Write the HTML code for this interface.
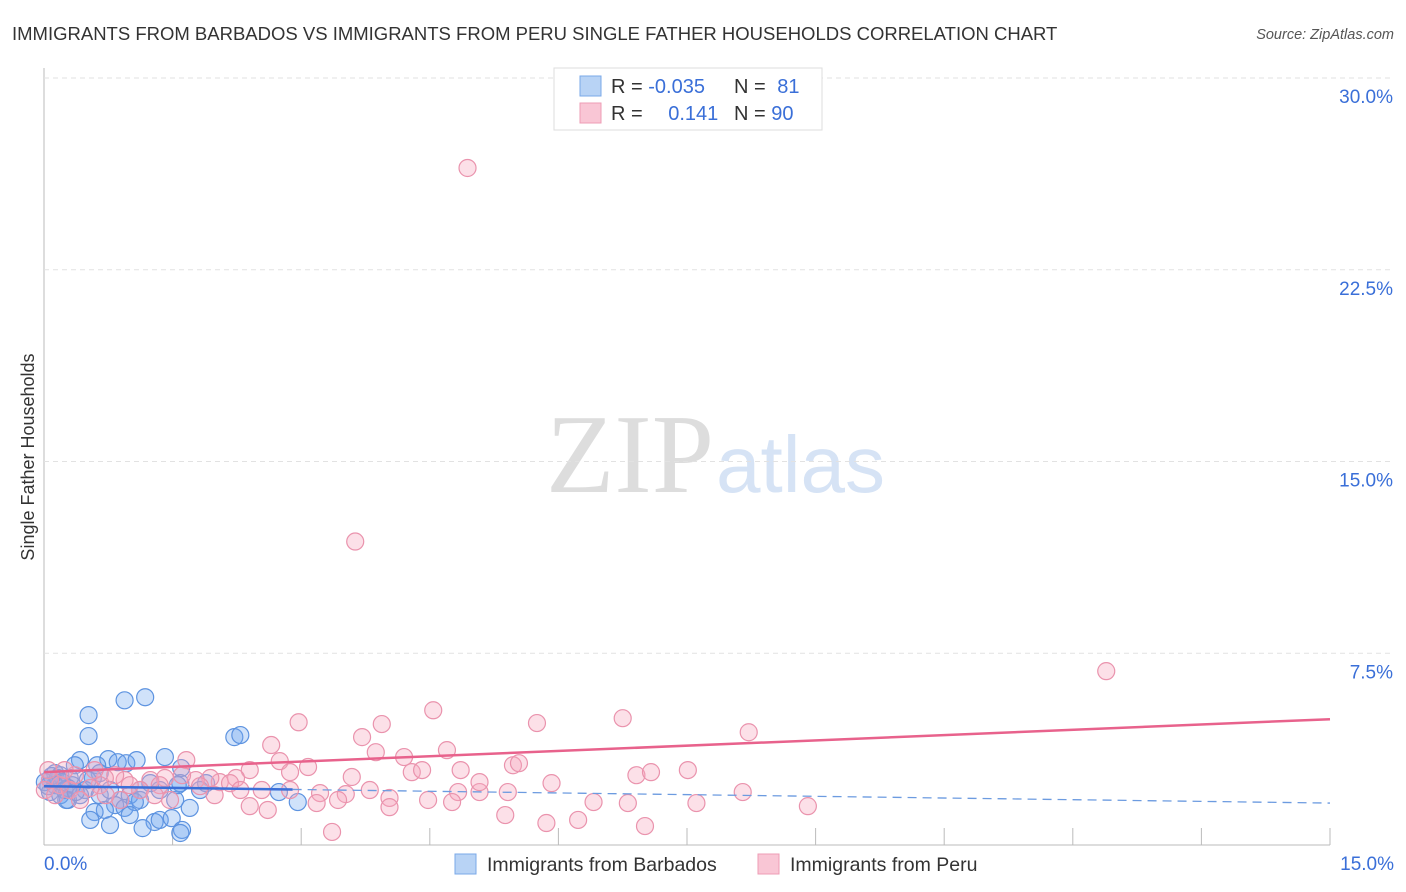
<!DOCTYPE html>
<html><head><meta charset="utf-8"><style>
body{margin:0;background:#fff;font-family:"Liberation Sans",sans-serif}
#wrap{position:relative;width:1406px;height:892px;overflow:hidden}
</style></head><body>
<div id="wrap">
<svg id="chart" width="1406" height="892">
<text x="12" y="40" font-size="18.5" fill="#333">IMMIGRANTS FROM BARBADOS VS IMMIGRANTS FROM PERU SINGLE FATHER HOUSEHOLDS CORRELATION CHART</text>
<text x="1394" y="39" font-size="14.5" fill="#555" font-style="italic" text-anchor="end">Source: ZipAtlas.com</text>
<text x="714" y="492" font-size="112" fill="#ddd" text-anchor="end" font-family="Liberation Serif,serif">ZIP</text>
<text x="716" y="492" font-size="80" fill="#d6e3f5">atlas</text>
<text transform="translate(34,457) rotate(-90)" font-size="18" fill="#333" text-anchor="middle">Single Father Households</text>
<g id="grid"></g><g id="pts"></g><g id="trend"></g>
<g>
<rect x="554" y="68" width="268" height="62" fill="#fff" stroke="#ddd"/>
<rect x="580" y="76" width="21" height="20" fill="#b8d3f5" stroke="#7aa8e8"/>
<rect x="580" y="103" width="21" height="20" fill="#f9c6d5" stroke="#ee9cb5"/>
<text x="611" y="93" font-size="20" fill="#333">R = <tspan fill="#3a6fd8">-0.035</tspan></text>
<text x="734" y="93" font-size="20" fill="#333">N = <tspan fill="#3a6fd8" dx="6">81</tspan></text>
<text x="611" y="120" font-size="20" fill="#333">R = <tspan fill="#3a6fd8" dx="20">0.141</tspan></text>
<text x="734" y="120" font-size="20" fill="#333">N = <tspan fill="#3a6fd8">90</tspan></text>
</g>
<g>
<rect x="455" y="854" width="21" height="20" fill="#b8d3f5" stroke="#7aa8e8"/>
<text x="487" y="871" font-size="19.5" fill="#333">Immigrants from Barbados</text>
<rect x="758" y="854" width="21" height="20" fill="#f9c6d5" stroke="#ee9cb5"/>
<text x="790" y="871" font-size="19.5" fill="#333">Immigrants from Peru</text>
</g>
</svg>
</div>
<script>
const yTicks=[7.5,15,22.5,30];
const yTickLabels=["7.5%","15.0%","22.5%","30.0%"];
const xTicks=[0,1.5,3,4.5,6,7.5,9,10.5,12,13.5,15];
const xEndLabels=["0.0%","15.0%"];
const barbadosX=[0.52,0.52,0.94,1.18,2.22,2.29,1.41,0.75,0.86,0.96,1.08,0.42,0.36,0.62,0.65,0.57,1.60,1.59,1.24,1.89,2.74,2.96,0.13,0.19,0.30,0.07,0.13,0.24,0.33,0.01,0.07,0.19,0.28,0.48,0.28,0.65,0.77,0.89,1.00,1.12,0.83,0.71,0.94,1.06,1.35,1.53,1.70,0.59,0.54,0.77,1.00,1.29,1.35,1.49,1.15,1.61,1.59,0.26,0.42,0.51,1.12,1.56,1.82,0.16,0.05,0.21,0.37,0.09];
const barbadosY=[5.08,4.26,5.66,5.78,4.22,4.30,3.44,3.36,3.24,3.20,3.32,3.32,3.12,3.12,2.81,2.62,3.01,2.42,2.42,2.42,2.07,1.68,2.81,2.73,2.62,2.54,2.34,2.15,2.34,2.46,2.07,1.95,2.23,2.15,1.76,1.95,2.15,1.76,1.95,1.76,1.56,1.37,1.45,1.68,2.15,1.76,1.45,1.29,0.98,0.78,1.17,0.90,0.98,1.05,0.66,0.59,0.47,1.76,1.95,2.54,2.15,2.34,2.15,2.62,2.30,2.46,2.07,2.70];
const peruX=[4.94,3.63,12.39,4.54,2.97,3.94,5.75,6.75,8.22,3.71,2.65,4.70,3.87,4.20,1.66,2.75,3.08,5.47,5.54,2.87,4.29,4.41,6.91,7.08,7.51,4.86,3.59,2.40,2.24,2.05,1.94,2.17,1.77,1.41,1.24,0.94,0.83,0.71,0.65,0.54,0.30,0.19,0.07,0.01,0.13,0.42,0.89,1.12,1.35,1.61,1.82,2.54,3.22,3.52,4.03,4.83,5.08,5.41,5.92,3.18,3.43,2.40,2.61,4.03,4.48,4.76,6.41,6.81,7.61,8.15,8.91,5.38,5.86,6.23,7.01,3.36,0.72,1.47,0.36,0.05,0.24,0.59,1.00,1.29,1.99,2.29,2.87,3.80,5.08];
const peruY=[26.48,11.87,6.80,5.27,4.80,4.73,4.77,4.96,4.41,4.22,3.91,3.71,3.63,3.44,3.32,3.28,3.05,3.12,3.20,2.85,2.85,2.93,2.73,2.85,2.93,2.93,2.66,2.93,2.62,2.46,2.62,2.42,2.54,2.62,2.54,2.54,2.73,2.62,2.34,2.23,2.15,2.34,2.54,2.15,1.95,1.76,1.76,2.15,2.34,2.73,2.30,2.15,2.03,1.99,1.84,2.07,2.07,2.07,2.42,1.64,1.76,1.52,1.37,1.48,1.76,1.68,1.68,1.64,1.64,2.07,1.52,1.17,0.86,0.98,0.74,0.51,1.95,1.76,2.73,2.93,2.93,2.93,2.34,1.95,1.95,2.15,2.15,2.15,2.46];
const peruTrend=[2.85,4.92];
const barbadosTrend=[2.30,1.64];
const barbadosSolidEnd=2.9;

const X0=44,X1=1330,Y0=845,Y30=78;
const sx=v=>X0+(X1-X0)*v/15;
const sy=v=>Y0-(Y0-Y30)*v/30;
const NS="http://www.w3.org/2000/svg";
function mk(tag,attrs,parent){const e=document.createElementNS(NS,tag);for(const k in attrs)e.setAttribute(k,attrs[k]);parent.appendChild(e);return e;}
const grid=document.getElementById('grid');
let ax=mk('line',{x1:X0,y1:68,x2:X0,y2:Y0,stroke:'#bbb'},grid);


let bx=mk('line',{x1:X0,y1:Y0,x2:X1,y2:Y0,stroke:'#bbb'},grid);


yTicks.forEach((t,i)=>{
  const g=mk('line',{x1:X0,y1:sy(t),x2:1394,y2:sy(t),stroke:'#e2e2e2','stroke-dasharray':'5,4'},grid);
  
  
  const l=mk('text',{x:1393,y:sy(t)+25,'font-size':19,fill:'#3a6fd8','text-anchor':'end'},grid);
  l.textContent=yTickLabels[i];
  
  
});
xTicks.slice(1).forEach(t=>{
  const k=mk('line',{x1:sx(t),y1:Y0-17,x2:sx(t),y2:Y0,stroke:'#bbb'},grid);
  
  
});
[[0,'start',X0],[1,'end',1394]].forEach(([i,a,x])=>{
  const l=mk('text',{x:x,y:870,'font-size':19,fill:'#3a6fd8','text-anchor':a},grid);
  l.textContent=xEndLabels[i];
  
  
});
const pts=document.getElementById('pts');
barbadosX.forEach((v,i)=>{
  const c=mk('circle',{cx:sx(v),cy:sy(barbadosY[i]),r:8.5,fill:'rgba(110,165,240,0.32)',stroke:'#5d93e0','stroke-width':1.2},pts);
  
  
});
peruX.forEach((v,i)=>{
  const c=mk('circle',{cx:sx(v),cy:sy(peruY[i]),r:8.5,fill:'rgba(245,165,190,0.35)',stroke:'#ea93ad','stroke-width':1.2},pts);
  
  
});
const tr=document.getElementById('trend');
const bAt=x=>barbadosTrend[0]+(barbadosTrend[1]-barbadosTrend[0])*x/15;
let b1=mk('line',{x1:sx(0),y1:sy(bAt(0)),x2:sx(barbadosSolidEnd),y2:sy(bAt(barbadosSolidEnd)),stroke:'#3a6fd8','stroke-width':2.5},tr);


let b2=mk('line',{x1:sx(barbadosSolidEnd),y1:sy(bAt(barbadosSolidEnd)),x2:sx(15),y2:sy(bAt(15)),stroke:'#6c9be0','stroke-width':1.3,'stroke-dasharray':'9,6'},tr);


let p1=mk('line',{x1:sx(0),y1:sy(peruTrend[0]),x2:sx(15),y2:sy(peruTrend[1]),stroke:'#e8628c','stroke-width':2.5},tr);


</script>
</body></html>
